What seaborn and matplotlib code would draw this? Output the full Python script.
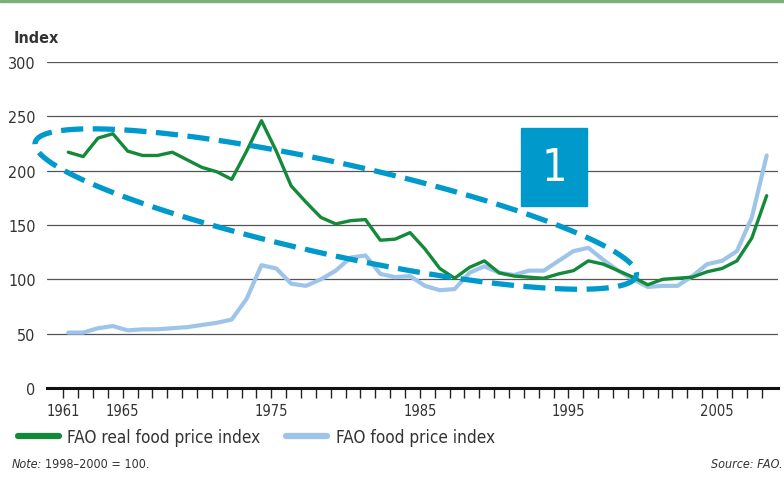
import numpy as np
import pandas as pd
import matplotlib
matplotlib.use("Agg")
import matplotlib.pyplot as plt
from matplotlib.patches import Rectangle
import seaborn as sns

# FAO food price indices, 1998-2000 = 100
years = list(range(1961, 2009))
real_index = [217, 213, 230, 234, 218, 214, 214, 217, 210, 203, 199, 192,
              218, 246, 218, 186, 171, 157, 151, 154, 155, 136, 137, 143,
              128, 110, 101, 111, 117, 106, 103, 102, 101, 105, 108, 117,
              114, 108, 102, 95, 100, 101, 102, 107, 110, 117, 138, 177]
nominal_index = [51, 51, 55, 57, 53, 54, 54, 55, 56, 58, 60, 63,
                 82, 113, 110, 96, 94, 100, 108, 120, 122, 105, 102, 103,
                 94, 90, 91, 106, 112, 106, 104, 108, 108, 117, 126, 129,
                 118, 108, 100, 93, 94, 94, 103, 114, 117, 126, 157, 214]
series_names = ["FAO real food price index", "FAO food price index"]
series_colors = ["#13893a", "#9fc4ea"]
y_ticks = [0, 50, 100, 150, 200, 250, 300]
x_labels = [1961, 1965, 1975, 1985, 1995, 2005]

# dashed ellipse highlighting the long decline (centre + conjugate semi-axes, data units)
ell_center = (1979.0, 164.7)
ell_axis_a = (20.23, -61.2)
ell_axis_b = (-0.67, -41.3)

df = pd.DataFrame({
    "year": years * 2,
    "value": real_index + nominal_index,
    "series": [series_names[0]] * len(years) + [series_names[1]] * len(years),
})

sns.set_style("white")
plt.rcParams["font.family"] = ["DejaVu Sans"]
plt.rcParams["font.stretch"] = "condensed"

fig = plt.figure(figsize=(7.84, 4.85), dpi=100)
ax = fig.add_axes([0.0596, 0.198, 0.9327, 0.672])

for yv in y_ticks[1:]:
    ax.axhline(yv, color="#555555", lw=0.9, zorder=1)

sns.lineplot(data=df, x="year", y="value", hue="series",
             hue_order=series_names[::-1],
             palette=dict(zip(series_names, series_colors)),
             lw=2.4, ax=ax, legend=False, zorder=3)
for line, w in zip(ax.lines[-2:], [3.0, 2.4]):
    line.set_linewidth(w)
    line.set_solid_joinstyle("round")

t = np.linspace(0, 2 * np.pi, 400)
ex = ell_center[0] + ell_axis_a[0] * np.cos(t) + ell_axis_b[0] * np.sin(t)
ey = ell_center[1] + ell_axis_a[1] * np.cos(t) + ell_axis_b[1] * np.sin(t)
ax.plot(ex, ey, color="#0099cc", lw=3.8, linestyle=(0, (4.2, 1.8)),
        dash_capstyle="butt", zorder=4, clip_on=False)

ax.set_xlim(1959.55, 2008.76)
ax.set_ylim(0, 300)
ax.set_yticks(y_ticks)
ax.set_yticklabels([str(v) for v in y_ticks], fontsize=11.5, color="#333333")
ax.tick_params(axis="y", length=0, pad=8)

tick_pos = np.array(years) - 0.34
ax.set_xticks(tick_pos)
ax.set_xticklabels([str(y) if y in x_labels else "" for y in years],
                   fontsize=10.5, color="#333333")
ax.tick_params(axis="x", direction="out", length=7, width=1.0,
               color="#222222", pad=4, bottom=True)

for s in ["top", "right", "left"]:
    ax.spines[s].set_visible(False)
ax.spines["bottom"].set_linewidth(2.2)
ax.spines["bottom"].set_color("#111111")
ax.set_xlabel("")
ax.set_ylabel("")

fig.text(0.017, 0.92, "Index", fontsize=11.5, fontweight="bold",
         color="#333333", va="center")

# numbered marker box
fig.add_artist(Rectangle((0.6645, 0.5732), 0.0842, 0.1608,
                         transform=fig.transFigure, color="#0099cc", zorder=5))
fig.text(0.7066, 0.6536, "1", fontsize=32, color="white",
         ha="center", va="center", zorder=6)

handles = [plt.Line2D([], [], color=c, lw=4.5) for c in series_colors]
fig.legend(handles, series_names, loc="center left",
           bbox_to_anchor=(0.003, 0.097), ncol=2, frameon=False,
           fontsize=12.3, handlelength=2.4, handletextpad=0.5,
           columnspacing=1.5, labelcolor="#333333")

fig.text(0.015, 0.035, "Note:", fontsize=9, style="italic", color="#333333")
fig.text(0.058, 0.035, "1998\u20132000 = 100.", fontsize=9, color="#333333")
fig.text(0.998, 0.035, "Source: FAO.", fontsize=9, style="italic",
         color="#333333", ha="right")

# green rule across the top
fig.add_artist(Rectangle((0, 0.993), 1, 0.007, transform=fig.transFigure,
                         color="#7ab07a"))

fig.savefig("out.png", dpi=100)
